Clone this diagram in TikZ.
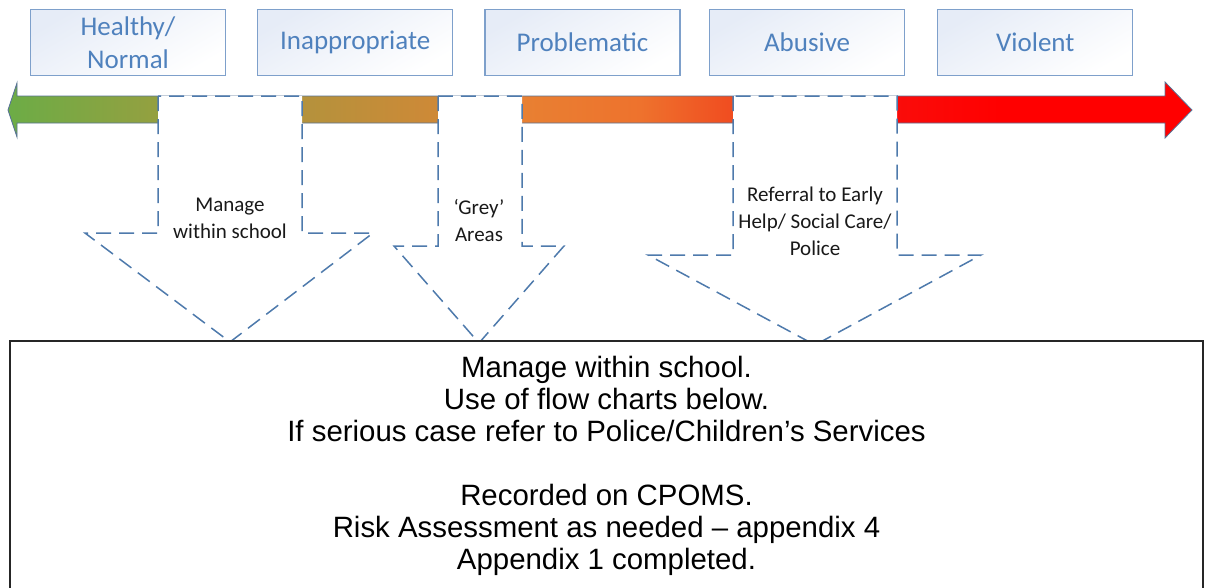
\documentclass[tikz,border=0pt]{standalone}
\usepackage{fontspec}
\newfontfamily\labelfont{Carlito}
\newfontfamily\notefont{Liberation Sans}
\usetikzlibrary{positioning}
\definecolor{labelblue}{RGB}{79,129,189}
\definecolor{boxedge}{RGB}{126,160,203}
\definecolor{boxtint}{RGB}{230,236,247}
\definecolor{dashblue}{RGB}{78,122,172}
\definecolor{baredge}{RGB}{88,115,150}
\definecolor{barA}{RGB}{108,172,70}
\definecolor{barB}{RGB}{148,160,64}
\definecolor{barC}{RGB}{180,146,60}
\definecolor{barD}{RGB}{206,137,55}
\definecolor{barE}{RGB}{232,128,50}
\definecolor{barF}{RGB}{238,114,45}
\definecolor{barG}{RGB}{240,76,32}
\definecolor{barH}{RGB}{250,12,10}
\definecolor{barI}{RGB}{255,0,0}
\pgfdeclarehorizontalshading{riskbar}{100bp}{color(0bp)=(barA); color(25bp)=(barA);
  color(31.3bp)=(barB); color(37.4bp)=(barC); color(43.1bp)=(barD); color(46.7bp)=(barE);
  color(51.7bp)=(barF); color(55.6bp)=(barG); color(62.5bp)=(barH); color(66.9bp)=(barI);
  color(100bp)=(barI)}
\begin{document}
\begin{tikzpicture}[x=1pt,y=-1pt]
\tikzstyle{level}=[draw=boxedge, line width=1.2pt, top color=boxtint, bottom color=white, shading angle=30, minimum width=195pt, minimum height=66pt, inner sep=0pt, align=center, text=labelblue, font=\labelfont\fontsize{27}{33}\selectfont]
\tikzstyle{route}=[draw=dashblue, line width=1.5pt, dash pattern=on 15pt off 8pt, fill=white]
\tikzstyle{routetext}=[align=center, inner sep=0pt, text=black!90, font=\labelfont\fontsize{21}{27}\selectfont]
\useasboundingbox (0,0) rectangle (1208,587);
\clip (0,0) rectangle (1208,587);
% scale of concern
\node[level] (healthy) at (128,42.5) {Healthy/\\Normal};
\node[level, right=31pt of healthy] (inappropriate) {Inappropriate};
\node[level, right=31pt of inappropriate] (problematic) {Problematic};
\node[level, right=28.5pt of problematic] (abusive) {Abusive};
\node[level, right=32pt of abusive] (violent) {Violent};
\shadedraw[draw=baredge, line width=0.8pt, shading=riskbar] (8,110) -- (17,83) -- (17,96) -- (1165,96) -- (1165,82) -- (1192,110) -- (1165,138) -- (1165,123) -- (17,123) -- (17,137) -- cycle;% Draw timeline
% responses
\draw[route] (158,96) -- (158,233) -- (85,233) -- (230,342) -- (373,233) -- (302,233) -- (302,96) -- cycle;
\draw[route] (438,96) -- (438,246) -- (394,246) -- (479,343) -- (564,246) -- (522,246) -- (522,96) -- cycle;
\draw[route] (733,96) -- (733,255) -- (648,255) -- (815,345) -- (981,255) -- (897,255) -- (897,96) -- cycle;
\node[routetext] (manage) at (230,218) {Manage\\within school};
\node[routetext] (grey) at (479,220) {‘Grey’\\Areas};
\node[routetext] (referral) at (815,221) {Referral to Early\\Help/ Social Care/\\Police};
% outcome
\node[draw=black!85, line width=1.5pt, fill=white, minimum width=1193pt, minimum height=280pt, anchor=north] (outcome) at (606.5,340) {};
\node[align=center, inner sep=0pt, anchor=north, font=\notefont\fontsize{29.4}{32}\selectfont] (outcometext) at (606.5,356) {Manage within school.\\Use of flow charts below.\\If serious case refer to Police/Children’s Services\\[32pt]Recorded on CPOMS.\\Risk Assessment as needed – appendix 4\\Appendix 1 completed.};
\end{tikzpicture}
\end{document}
